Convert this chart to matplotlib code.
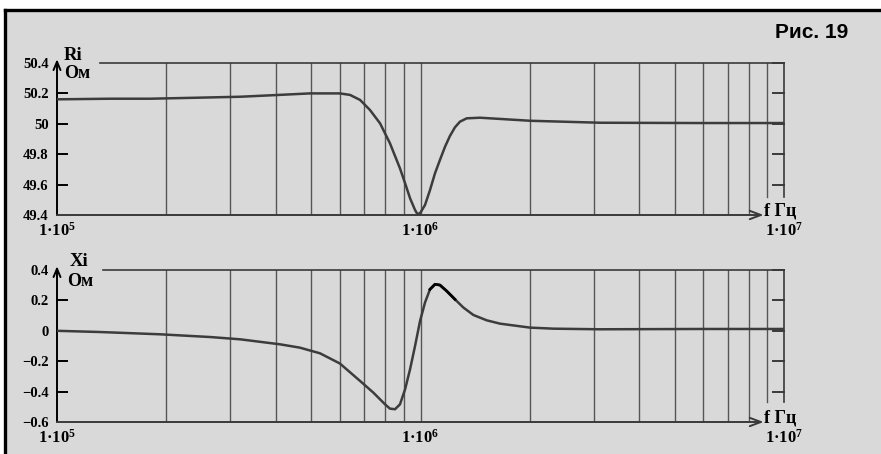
import matplotlib
matplotlib.use("Agg")
import matplotlib.pyplot as plt
from matplotlib.ticker import NullLocator, NullFormatter
from matplotlib.patches import Rectangle
import numpy as np

# --- data ---
ri_freq = [1.0e5, 1.40e5, 1.80e5, 2.47e5, 3.19e5, 4.00e5, 4.97e5, 6.00e5, 6.40e5,
           6.82e5, 7.26e5, 7.74e5, 8.24e5, 8.78e5, 9.07e5, 9.36e5, 9.66e5, 9.80e5,
           9.97e5, 1.029e6, 1.062e6, 1.096e6, 1.131e6, 1.168e6, 1.205e6, 1.244e6,
           1.284e6, 1.340e6, 1.458e6, 1.655e6, 2.00e6, 3.12e6, 5.87e6, 1.0e7]
ri_vals = [50.161, 50.165, 50.165, 50.172, 50.178, 50.189, 50.200, 50.200, 50.190,
           50.157, 50.091, 50.003, 49.872, 49.707, 49.609, 49.510, 49.433, 49.407,
           49.411, 49.466, 49.564, 49.674, 49.762, 49.849, 49.920, 49.977,
           50.014, 50.036, 50.040, 50.032, 50.020, 50.007, 50.005, 50.005]

xi_freq = [1.0e5, 1.313e5, 1.92e5, 2.64e5, 3.19e5, 4.11e5, 4.66e5, 5.29e5, 6.00e5,
           6.82e5, 7.42e5, 7.99e5, 8.24e5, 8.51e5, 8.78e5, 9.07e5, 9.36e5, 9.66e5,
           9.97e5, 1.029e6, 1.062e6, 1.096e6, 1.131e6, 1.180e6, 1.244e6, 1.312e6,
           1.398e6, 1.521e6, 1.655e6, 2.00e6, 2.32e6, 3.12e6, 5.87e6, 1.0e7]
xi_vals = [0.0, -0.008, -0.023, -0.041, -0.056, -0.089, -0.111, -0.148, -0.215,
           -0.330, -0.407, -0.484, -0.512, -0.516, -0.484, -0.385, -0.253, -0.100,
           0.064, 0.186, 0.273, 0.306, 0.301, 0.262, 0.207, 0.153,
           0.104, 0.069, 0.047, 0.021, 0.014, 0.010, 0.012, 0.012]

ri_ticks = [50.4, 50.2, 50.0, 49.8, 49.6, 49.4]
ri_ticklabels = ["50.4", "50.2", "50", "49.8", "49.6", "49.4"]
xi_ticks = [0.4, 0.2, 0.0, -0.2, -0.4, -0.6]
xi_ticklabels = ["0.4", "0.2", "0", "\u22120.2", "\u22120.4", "\u22120.6"]
f_ticks = [1e5, 1e6, 1e7]
f_ticklabels = ["$1\u00b710^{5}$", "$1\u00b710^{6}$", "$1\u00b710^{7}$"]

W, H = 881, 454
BG = "#d9d9d9"
LINE = "#3c3c3c"
GRID = "#555555"
AXC = "#3a3a3a"

plt.rcParams["mathtext.fontset"] = "custom"
plt.rcParams["mathtext.rm"] = "Liberation Serif:bold"
plt.rcParams["mathtext.it"] = "Liberation Serif:bold"
plt.rcParams["mathtext.bf"] = "Liberation Serif:bold"

fig = plt.figure(figsize=(W / 100, H / 100), dpi=100, facecolor="white")
fig.patches.append(Rectangle((5 / W, 0), 1, 1 - 10 / H, transform=fig.transFigure,
                             facecolor=BG, edgecolor="none", zorder=-10))
fig.add_artist(plt.Line2D([5 / W, 5 / W], [0, 1 - 10 / H], color="black", lw=2.4))
fig.add_artist(plt.Line2D([5 / W, 1], [1 - 10 / H, 1 - 10 / H], color="black", lw=2.4))


def fx(x):
    return x / W


def fy(y):
    return 1 - y / H


def make_panel(top_px, freq, vals, lims, ticks, ticklabels, top_gap_px, right_cut_px,
               right_tick_vals, name, name_xy, unit_xy, dark=None):
    left, right, bottom = 57, 784, top_px + 152
    ax = fig.add_axes([fx(left), fy(bottom), (right - left) / W, 152 / H])
    ax.set_facecolor("none")
    ax.set_xscale("log")
    ax.set_xlim(1e5, 1e7)
    ax.set_ylim(*lims)
    for s in ax.spines.values():
        s.set_visible(False)

    cut = right_cut_px / 152.0
    # vertical grid lines of the log decades
    for dec in [1e5, 1e6]:
        for m in range(1, 10):
            f = m * dec
            if f == 1e5:
                continue
            ymin = cut if f == 9e6 else 0
            ax.axvline(f, ymin=ymin, ymax=1, color=GRID, lw=1.0, zorder=1)

    # frame lines
    tr = ax.transAxes
    ax.plot([top_gap_px / 727.0, 1], [1, 1], transform=tr, color=AXC, lw=1.2, clip_on=False)
    ax.plot([1, 1], [cut, 1], transform=tr, color=AXC, lw=1.2, clip_on=False)
    ax.annotate("", xy=(0, 1.025), xytext=(0, 0), xycoords="axes fraction",
                arrowprops=dict(arrowstyle="->,head_length=0.6,head_width=0.25",
                                color="black", lw=1.4, shrinkA=0, shrinkB=0))
    ax.annotate("", xy=(0.972, 0), xytext=(0, 0), xycoords="axes fraction",
                arrowprops=dict(arrowstyle="->,head_length=0.8,head_width=0.3",
                                color=AXC, lw=1.4, shrinkA=0, shrinkB=0))

    # inward tick marks
    yt = ax.get_yaxis_transform()
    for v in ticks[1:-1]:
        ax.plot([0, 10 / 727.0], [v, v], transform=yt, color="black", lw=1.4, clip_on=False)
    for v in right_tick_vals:
        ax.plot([1 - 11 / 727.0, 1], [v, v], transform=yt, color=AXC, lw=1.4, clip_on=False)

    # curve
    ax.plot(freq, vals, color=LINE, lw=1.8, zorder=3, solid_joinstyle="round")
    if dark is not None:
        fa = np.array(freq)
        va = np.array(vals)
        m = (fa >= dark[0]) & (fa <= dark[1])
        ax.plot(fa[m], va[m], color="black", lw=2.0, zorder=4)

    ax.set_yticks(ticks)
    ax.set_yticklabels(ticklabels, fontfamily="Liberation Serif", fontweight="bold",
                       fontsize=10.5)
    ax.set_xticks(f_ticks)
    ax.set_xticklabels(f_ticklabels, fontsize=12)
    ax.xaxis.set_minor_locator(NullLocator())
    ax.xaxis.set_minor_formatter(NullFormatter())
    ax.tick_params(axis="y", length=0, pad=6)
    ax.tick_params(axis="x", length=0, pad=5)

    fig.text(fx(name_xy[0]), fy(name_xy[1]), name, fontfamily="Liberation Serif",
             fontweight="bold", fontsize=13.5, ha="left", va="center")
    fig.text(fx(unit_xy[0]), fy(unit_xy[1]), "Ом", fontfamily="Liberation Serif",
             fontweight="bold", fontsize=13, ha="left", va="center")
    fig.text(fx(764), fy(bottom - 4), "f Гц", fontfamily="Liberation Serif",
             fontweight="bold", fontsize=13, ha="left", va="center")
    return ax


make_panel(63, ri_freq, ri_vals, (49.4, 50.4), ri_ticks, ri_ticklabels, 43, 18,
           [50.4, 50.2, 50.0, 49.8, 49.6], "Ri", (64, 56), (64, 74))
make_panel(270, xi_freq, xi_vals, (-0.6, 0.4), xi_ticks, xi_ticklabels, 46, 20,
           [0.4, 0.2, 0.0, -0.2, -0.4], "Xi", (70, 262), (67, 281),
           dark=(1.05e6, 1.30e6))

fig.text(fx(775), fy(33), "Рис. 19", fontfamily="Liberation Sans", fontweight="bold",
         fontsize=15, ha="left", va="center")

fig.savefig("out.png", dpi=100, facecolor=fig.get_facecolor())
